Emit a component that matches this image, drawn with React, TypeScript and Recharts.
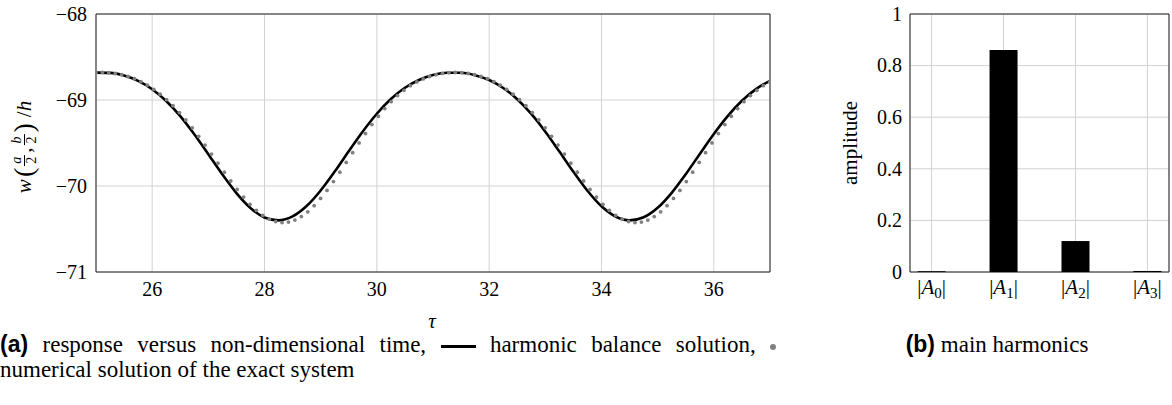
import React from 'react'
import {
  ComposedChart,
  BarChart,
  Bar,
  Line,
  XAxis,
  YAxis,
  CartesianGrid,
  ReferenceArea,
} from 'recharts'

const serif = '"Liberation Serif", "Times New Roman", serif'
const sans = '"Liberation Sans", Arial, sans-serif'

// harmonic balance solution (solid line)
const lineTau = [
  25, 25.25, 25.5, 25.75, 26, 26.25, 26.5, 26.75, 27, 27.25, 27.5, 27.75, 28,
  28.25, 28.5, 28.75, 29, 29.25, 29.5, 29.75, 30, 30.25, 30.5, 30.75, 31,
  31.25, 31.5, 31.75, 32, 32.25, 32.5, 32.75, 33, 33.25, 33.5, 33.75, 34,
  34.25, 34.5, 34.75, 35, 35.25, 35.5, 35.75, 36, 36.25, 36.5, 36.75, 37,
]
const lineW = [
  -68.682, -68.685, -68.716, -68.778, -68.875, -69.012, -69.188, -69.399,
  -69.63, -69.866, -70.082, -70.255, -70.366, -70.4, -70.354, -70.233,
  -70.052, -69.832, -69.596, -69.366, -69.16, -68.989, -68.858, -68.767,
  -68.71, -68.683, -68.683, -68.711, -68.768, -68.86, -68.991, -69.162,
  -69.369, -69.599, -69.835, -70.055, -70.236, -70.355, -70.4, -70.364,
  -70.253, -70.079, -69.863, -69.627, -69.395, -69.185, -69.009, -68.873,
  -68.777,
]

// numerical solution of the exact system (grey dots)
const dotTau = [
  25.0, 25.114, 25.228, 25.343, 25.457, 25.571, 25.685, 25.8, 25.914, 26.028,
  26.142, 26.257, 26.371, 26.485, 26.599, 26.714, 26.828, 26.942, 27.056,
  27.171, 27.285, 27.399, 27.513, 27.628, 27.742, 27.856, 27.97, 28.084,
  28.199, 28.313, 28.427, 28.541, 28.656, 28.77, 28.884, 28.998, 29.113,
  29.227, 29.341, 29.455, 29.57, 29.684, 29.798, 29.912, 30.027, 30.141,
  30.255, 30.369, 30.484, 30.598, 30.712, 30.826, 30.94, 31.055, 31.169,
  31.283, 31.397, 31.512, 31.626, 31.74, 31.854, 31.969, 32.083, 32.197,
  32.311, 32.426, 32.54, 32.654, 32.768, 32.883, 32.997, 33.111, 33.225,
  33.34, 33.454, 33.568, 33.682, 33.796, 33.911, 34.025, 34.139, 34.253,
  34.368, 34.482, 34.596, 34.71, 34.825, 34.939, 35.053, 35.167, 35.282,
  35.396, 35.51, 35.624, 35.739, 35.853, 35.967, 36.081, 36.196, 36.31,
  36.424, 36.538, 36.652, 36.767, 36.881, 36.995,
]
const dotW = [
  -68.683, -68.68, -68.683, -68.692, -68.706, -68.727, -68.753, -68.787,
  -68.828, -68.876, -68.932, -68.996, -69.067, -69.146, -69.232, -69.324,
  -69.422, -69.524, -69.629, -69.735, -69.84, -69.942, -70.04, -70.129,
  -70.213, -70.284, -70.342, -70.386, -70.413, -70.425, -70.419, -70.396,
  -70.356, -70.3, -70.229, -70.145, -70.051, -69.948, -69.839, -69.726,
  -69.612, -69.499, -69.39, -69.286, -69.189, -69.1, -69.02, -68.948,
  -68.887, -68.834, -68.79, -68.755, -68.727, -68.706, -68.691,
  -68.683, -68.68, -68.683, -68.692, -68.706, -68.727, -68.753, -68.787,
  -68.828, -68.876, -68.932, -68.996, -69.067, -69.146, -69.232, -69.324,
  -69.422, -69.524, -69.629, -69.735, -69.84, -69.942, -70.04, -70.129,
  -70.213, -70.284, -70.342, -70.386, -70.413, -70.425, -70.419, -70.396,
  -70.356, -70.3, -70.229, -70.145, -70.051, -69.948, -69.839, -69.726,
  -69.612, -69.499, -69.39, -69.286, -69.189, -69.1, -69.02, -68.948,
  -68.887, -68.834, -68.79,
]

const tauTicks = [26, 28, 30, 32, 34, 36]
const wTicks = [-71, -70, -69, -68]

// main harmonics
const harmonicIndex = [0, 1, 2, 3]
const harmonicSub = ['0', '1', '2', '3']
const amplitudes = [0.003, 0.86, 0.12, 0.004]
const ampTicks = [0, 0.2, 0.4, 0.6, 0.8, 1]

const lineData = lineTau.map((t, i) => ({ t, w: lineW[i] }))
const dotData = dotTau.map((t, i) => ({ t, w: dotW[i] }))
const barData = harmonicIndex.map((n, i) => ({ n, a: amplitudes[i] }))

const TICK_FONT = 20

const minus = (v: number) => (v < 0 ? '\u2212' + Math.abs(v) : String(v))

function BottomTick(props: any) {
  const { x, y, payload } = props
  return (
    <text x={x} y={y} dy="0.75em" textAnchor="middle" fontFamily={serif} fontSize={TICK_FONT} fill="#000">
      {minus(payload.value)}
    </text>
  )
}

function LeftTick(props: any) {
  const { x, y, payload } = props
  return (
    <text x={x} y={y} dy="0.34em" textAnchor="end" fontFamily={serif} fontSize={TICK_FONT} fill="#000">
      {minus(payload.value)}
    </text>
  )
}

function HarmonicTick(props: any) {
  const { x, y, payload } = props
  return (
    <text x={x} y={y} dy="0.78em" textAnchor="middle" fontFamily={serif} fontSize={21} fill="#000">
      |<tspan fontStyle="italic">A</tspan>
      <tspan fontSize={15} dy={4}>
        {harmonicSub[payload.value]}
      </tspan>
      <tspan dy={-4}>|</tspan>
    </text>
  )
}

function Frac({ n, d }: { n: string; d: string }) {
  return (
    <span
      style={{
        display: 'inline-flex',
        flexDirection: 'column',
        alignItems: 'center',
        fontSize: 14,
        lineHeight: '13px',
        margin: '0 2px',
      }}
    >
      <i style={{ borderBottom: '1px solid #000', padding: '0 2px 1px' }}>{n}</i>
      <span>{d}</span>
    </span>
  )
}

export default function App() {
  return (
    <div
      style={{
        position: 'absolute',
        left: 0,
        top: 0,
        width: 1172,
        height: 405,
        background: '#fff',
        fontFamily: serif,
        color: '#000',
      }}
    >
      <div style={{ position: 'absolute', left: 0, top: 0 }}>
        <ComposedChart width={790} height={312} margin={{ top: 14, right: 20, bottom: 12, left: 0 }}>
          <CartesianGrid stroke="#d2d2d2" strokeWidth={1} />
          <XAxis
            dataKey="t"
            type="number"
            domain={[25, 37]}
            ticks={tauTicks}
            allowDataOverflow
            tick={<BottomTick />}
            tickLine={false}
            axisLine={false}
            tickSize={0}
            tickMargin={9}
            height={28}
          />
          <YAxis
            type="number"
            domain={[-71, -68]}
            ticks={wTicks}
            allowDataOverflow
            tick={<LeftTick />}
            tickLine={false}
            axisLine={false}
            tickSize={0}
            tickMargin={9}
            width={96}
          />
          <Line
            data={lineData}
            dataKey="w"
            type="monotone"
            stroke="#000"
            strokeWidth={2.6}
            dot={false}
            isAnimationActive={false}
          />
          <Line
            data={dotData}
            dataKey="w"
            stroke="none"
            dot={{ r: 1.9, fill: '#808080', stroke: 'none' }}
            isAnimationActive={false}
          />
          <ReferenceArea x1={25} x2={37} y1={-71} y2={-68} fill="none" stroke="#222" strokeWidth={1} />
        </ComposedChart>
      </div>

      <div
        style={{
          position: 'absolute',
          left: 24,
          top: 147,
          transform: 'translate(-50%, -50%) rotate(-90deg)',
          whiteSpace: 'nowrap',
          fontSize: 21,
          display: 'flex',
          alignItems: 'center',
        }}
      >
        <i>w</i>
        <span style={{ fontSize: 28, marginLeft: 2 }}>(</span>
        <Frac n="a" d="2" />
        <span>,</span>
        <Frac n="b" d="2" />
        <span style={{ fontSize: 28 }}>)</span>
        <span style={{ marginLeft: 6 }}>/</span>
        <i>h</i>
      </div>

      <div
        style={{
          position: 'absolute',
          left: 432,
          top: 321,
          transform: 'translate(-50%, -50%)',
          fontSize: 21,
          fontStyle: 'italic',
        }}
      >
        τ
      </div>

      <div style={{ position: 'absolute', left: 820, top: 0 }}>
        <BarChart width={352} height={312} data={barData} margin={{ top: 14, right: 3, bottom: 12, left: 0 }}>
          <CartesianGrid stroke="#d2d2d2" strokeWidth={1} />
          <XAxis
            dataKey="n"
            type="number"
            domain={[-0.3, 3.3]}
            ticks={harmonicIndex}
            allowDataOverflow
            tick={<HarmonicTick />}
            tickLine={false}
            axisLine={false}
            tickSize={0}
            tickMargin={6}
            height={28}
          />
          <YAxis
            type="number"
            domain={[0, 1]}
            ticks={ampTicks}
            tick={<LeftTick />}
            tickLine={false}
            axisLine={false}
            tickSize={0}
            tickMargin={8}
            width={90}
          />
          <Bar dataKey="a" fill="#000" barSize={28} isAnimationActive={false} />
          <ReferenceArea x1={-0.3} x2={3.3} y1={0} y2={1} fill="none" stroke="#222" strokeWidth={1} />
        </BarChart>
      </div>

      <div
        style={{
          position: 'absolute',
          left: 850,
          top: 143,
          transform: 'translate(-50%, -50%) rotate(-90deg)',
          fontSize: 21,
          whiteSpace: 'nowrap',
        }}
      >
        amplitude
      </div>

      <div
        style={{
          position: 'absolute',
          left: 0,
          top: 331,
          width: 776,
          fontSize: 23,
          lineHeight: '26px',
          textAlign: 'justify',
          textAlignLast: 'justify',
          whiteSpace: 'nowrap',
        }}
      >
        <b style={{ fontFamily: sans }}>(a)</b> response versus non-dimensional time,{' '}
        <span
          style={{
            display: 'inline-block',
            width: 35,
            height: 3,
            background: '#000',
            verticalAlign: 'middle',
          }}
        />{' '}
        harmonic balance solution,{' '}
        <span
          style={{
            display: 'inline-block',
            width: 6,
            height: 6,
            borderRadius: 3,
            background: '#808080',
            verticalAlign: 'middle',
          }}
        />
      </div>
      <div style={{ position: 'absolute', left: 0, top: 357, fontSize: 23, lineHeight: '26px' }}>
        numerical solution of the exact system
      </div>

      <div
        style={{
          position: 'absolute',
          left: 997,
          top: 331,
          transform: 'translateX(-50%)',
          fontSize: 23,
          lineHeight: '26px',
          whiteSpace: 'nowrap',
        }}
      >
        <b style={{ fontFamily: sans }}>(b)</b> main harmonics
      </div>
    </div>
  )
}
